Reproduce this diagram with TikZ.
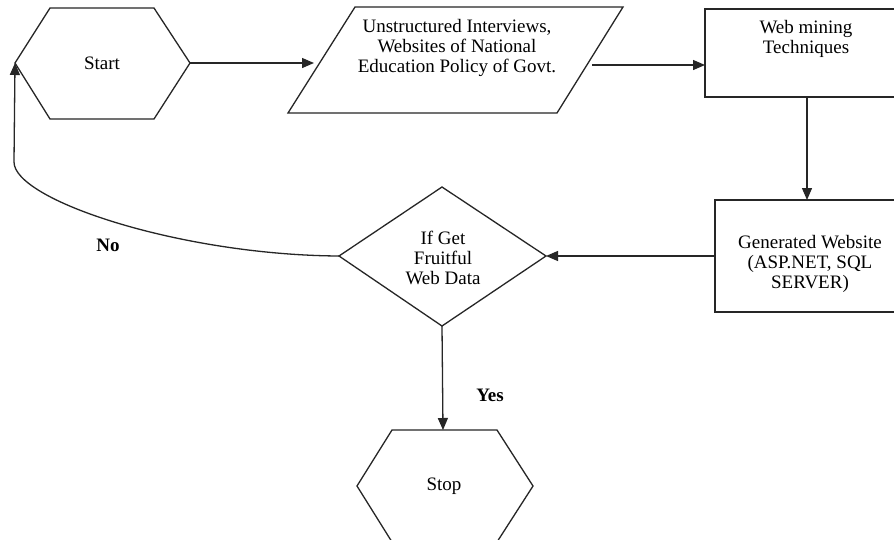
\documentclass[tikz,border=0pt]{standalone}
\usepackage{fontspec}
\setmainfont{Liberation Serif}
\usetikzlibrary{arrows.meta}
\begin{document}
\begin{tikzpicture}[x=1pt,y=-1pt,
  shapeline/.style={draw=black!85,line width=1.3pt,line join=miter},
  conn/.style={draw=black!85,line width=1.3pt,-{Triangle[length=12pt,width=10pt]}},
  txt/.style={font=\fontsize{19}{20}\selectfont,align=center,inner sep=0pt},
  lbl/.style={font=\fontsize{19}{20}\selectfont\bfseries,inner sep=0pt}]
\clip (0,0) rectangle (894,539);
\fill[white] (0,0) rectangle (894,539);
% Start hexagon
\coordinate (startL) at (15,63);
\coordinate (startR) at (190,63);
\draw[shapeline] (startL) -- (50,8) -- (154,8) -- (startR) -- (154,119) -- (50,119) -- cycle;
\node[txt] (start) at (102,63) {Start};
% Data parallelogram
\coordinate (dataL) at (314,63);
\coordinate (dataR) at (592,65);
\draw[shapeline] (355,7) -- (623,7) -- (557,113) -- (288,113) -- cycle;
\node[txt] (data) at (457,48) {Unstructured Interviews,\\ Websites of National\\Education Policy of Govt.};
% Web mining rectangle
\coordinate (webL) at (705,65);
\coordinate (webB) at (807,97);
\draw[shapeline] (705,9) rectangle (910,97);
\node[txt] (web) at (806,39) {Web mining\\Techniques};
% Generated website rectangle
\coordinate (genT) at (807,200);
\coordinate (genL) at (715,256);
\draw[shapeline] (715,200) rectangle (910,312);
\node[txt] (gen) at (810,264) {Generated Website\\(ASP.NET, SQL\\SERVER)};
% Decision diamond
\coordinate (decR) at (546,256);
\coordinate (decL) at (339,256);
\coordinate (decB) at (442,326);
\draw[shapeline] (442,187) -- (decR) -- (decB) -- (decL) -- cycle;
\node[txt] (dec) at (443,258) {If Get\\Fruitful\\Web Data};
% Stop hexagon
\coordinate (stopT) at (443,430);
\draw[shapeline] (357,486) -- (392,430) -- (497,430) -- (533,486) -- (497,542) -- (392,542) -- cycle;
\node[txt] (stop) at (444,486) {Stop};
% connectors
\draw[conn] (startR) -- (dataL);
\draw[conn] (dataR) -- (webL);
\draw[conn] (webB) -- (genT);
\draw[conn] (genL) -- (decR);
\draw[conn] (decB) -- (stopT);
\coordinate (bend) at (14,162);
\draw[conn] (decL) .. controls (180,255) and (14,200) .. (bend) -- (startL);
\node[lbl] (no) at (108,245) {No};
\node[lbl] (yes) at (490,395) {Yes};
\end{tikzpicture}
\end{document}
